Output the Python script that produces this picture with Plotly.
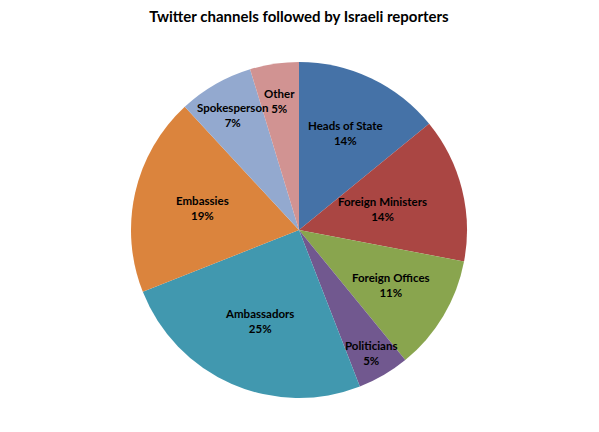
import math
import plotly.graph_objects as go

labels = ["Heads of State", "Foreign Ministers", "Foreign Offices", "Politicians",
          "Ambassadors", "Embassies", "Spokesperson", "Other"]
values = [14.1, 13.9, 11.1, 5.0, 24.9, 19.1, 7.2, 4.7]
colors = ["#4572A7", "#AA4643", "#89A54E", "#71588F",
          "#4198AF", "#DB843D", "#93A9CF", "#D19392"]
# radial position of each label as a fraction of the pie radius
label_radius = [0.64, 0.51, 0.64, 0.85, 0.59, 0.59, 0.79, 0.775]

# the page body adds an 8px margin, so the figure is drawn slightly smaller
W, H = 591, 424
mt, mb, ml, mr = 54, 34, 0, 9
R = (H - mt - mb) / 2.0
PW = W - ml - mr
PH = H - mt - mb

fig = go.Figure(go.Pie(
    labels=labels, values=values, sort=False, direction="clockwise", rotation=0,
    marker=dict(colors=colors, line=dict(width=0)),
    textinfo="none", hoverinfo="label+percent", showlegend=False,
    domain=dict(x=[0, 1], y=[0, 1]),
))

total = sum(values)
cum = 0.0
annotations = []
for lab, v, rf in zip(labels, values, label_radius):
    mid = (cum + v / 2) / total * 2 * math.pi
    cum += v
    dx = rf * R * math.sin(mid)
    dy = rf * R * math.cos(mid)
    pct = round(v / total * 100)
    annotations.append(dict(
        x=0.5 + dx / PW, y=0.5 + dy / PH, xref="paper", yref="paper",
        text=f"{lab}<br>{pct}%", showarrow=False,
        font=dict(family="Lato", size=11.5, color="black", weight="bold"),
        align="center", xanchor="center", yanchor="middle"))

fig.update_layout(
    width=W, height=H,
    margin=dict(l=ml, r=mr, t=mt, b=mb),
    paper_bgcolor="white", plot_bgcolor="white",
    title=dict(text="<b>Twitter channels followed by Israeli reporters</b>",
               x=(ml + PW / 2) / W, xanchor="center", y=1 - 9 / H, yanchor="middle",
               font=dict(family="Lato", size=15, color="black")),
    annotations=annotations,
)

fig.write_html("out.html")
